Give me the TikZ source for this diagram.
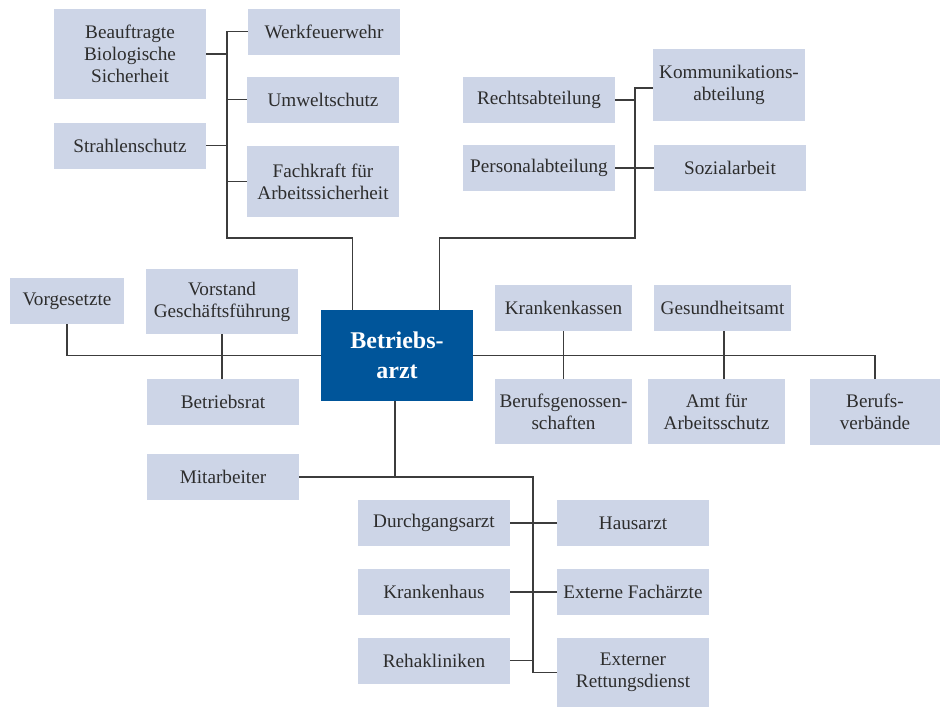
\documentclass[tikz,border=0pt]{standalone}
\usepackage{fontspec}
\setmainfont{Liberation Serif}
\usepackage{tikz}

\definecolor{boxblue}{RGB}{205,213,231}
\definecolor{arztblue}{RGB}{0,85,154}
\definecolor{linegray}{RGB}{60,60,60}
\definecolor{textgray}{RGB}{45,45,45}

\tikzset{
  box/.style={fill=boxblue, text=textgray, align=center, inner sep=1pt,
              minimum width=76pt, minimum height=23pt, font=\fontsize{9.6}{11}\selectfont},
  midbox/.style={box, minimum width=68.5pt},
  arztbox/.style={fill=arztblue, text=white, align=center, inner sep=1pt,
                  minimum width=76pt, minimum height=45.5pt,
                  font=\fontsize{12}{15}\selectfont\bfseries},
  link/.style={draw=linegray, line width=0.55pt}
}

\begin{document}
\begin{tikzpicture}[x=0.5pt,y=-0.5pt]
        \useasboundingbox (0,0) rectangle (940,707);
        % centre
        \node[arztbox] (arzt) at (397,355.5) {Betriebs-\\arzt};
        % top left group
        \node[box, minimum height=45pt] (beauf) at (130,54) {Beauftragte\\Biologische\\Sicherheit};
        \node[box] (strahlen) at (130,145.5) {Strahlenschutz};
        \node[box] (werk) at (324,31.5) {Werkfeuerwehr};
        \node[box] (umwelt) at (323,99.5) {Umweltschutz};
        \node[box, minimum height=35.5pt] (fachkraft) at (323,181.5) {Fachkraft für\\Arbeitssicherheit};
        % top right group
        \node[box] (rechts) at (539,100) {Rechtsabteilung};
        \node[box] (personal) at (539,168) {Personalabteilung};
        \node[box, minimum height=36pt] (komm) at (729,85) {Kommunikations-\\abteilung};
        \node[box] (sozial) at (730,168) {Sozialarbeit};
        % left row
        \node[box, minimum width=57pt] (vorges) at (67,301) {Vorgesetzte};
        \node[box, minimum height=32.5pt] (vorstand) at (222,301.5) {Vorstand\\Geschäftsführung};
        \node[box] (rat) at (223,402) {Betriebsrat};
        \node[box] (mitarb) at (223,477) {Mitarbeiter};
        % right row
        \node[midbox] (kkassen) at (563.5,308) {Krankenkassen};
        \node[midbox] (gesund) at (722.5,308) {Gesundheitsamt};
        \node[midbox, minimum height=32.5pt] (bg) at (563.5,411.5) {Berufsgenossen-\\schaften};
        \node[midbox, minimum height=32.5pt] (amt) at (716.5,411.5) {Amt für\\Arbeitsschutz};
        \node[box, minimum width=65pt, minimum height=33pt] (verb) at (875,412) {Berufs-\\verbände};
        % bottom group
        \node[box] (durch) at (434,523) {Durchgangsarzt};
        \node[box] (haus) at (633,523) {Hausarzt};
        \node[box] (kh) at (434,592) {Krankenhaus};
        \node[box] (fach) at (633,592) {Externe Fachärzte};
        \node[box] (reha) at (434,660.5) {Rehakliniken};
        \node[box, minimum height=34.5pt] (rett) at (633,672.5) {Externer\\Rettungsdienst};

        % junctions
        \coordinate (lj) at (227,238);
        \coordinate (rj) at (635,238);
        \coordinate (bj) at (533,477);

        % connectors up
        \draw[link] (werk.west) -| (lj) -| ([xshift=16pt]arzt.north west);
        \draw[link] (beauf.east) -- (beauf.east -| lj);
        \draw[link] (umwelt.west) -- (umwelt.west -| lj);
        \draw[link] (strahlen.east) -- (strahlen.east -| lj);
        \draw[link] (fachkraft.west) -- (fachkraft.west -| lj);
        \draw[link] ([yshift=-1.5pt]komm.west) -| (rj) -| ([xshift=-17pt]arzt.north east);
        \draw[link] (rechts.east) -- (rechts.east -| rj);
        \draw[link] (personal.east) -- (sozial.west);
        % connectors sideways
        \draw[link] (vorges.south) |- (arzt.west);
        \draw[link] (vorstand.south) -- (vorstand.south |- rat.north);
        \draw[link] (arzt.east) -| (verb.north);
        \draw[link] (kkassen.south) -- (kkassen.south |- bg.north);
        \draw[link] ([xshift=0.75pt]gesund.south) -- ([xshift=0.75pt]gesund.south |- amt.north);
        % connectors down
        \draw[link] ([xshift=-1pt]arzt.south) -- ([xshift=-1pt]arzt.south |- bj);
        \draw[link] (mitarb.east) -- (bj) |- (rett.west);
        \draw[link] (durch) -- (haus);
        \draw[link] (kh) -- (fach);
        \draw[link] (reha.east) -- (reha.east -| bj);
\end{tikzpicture}
\end{document}
